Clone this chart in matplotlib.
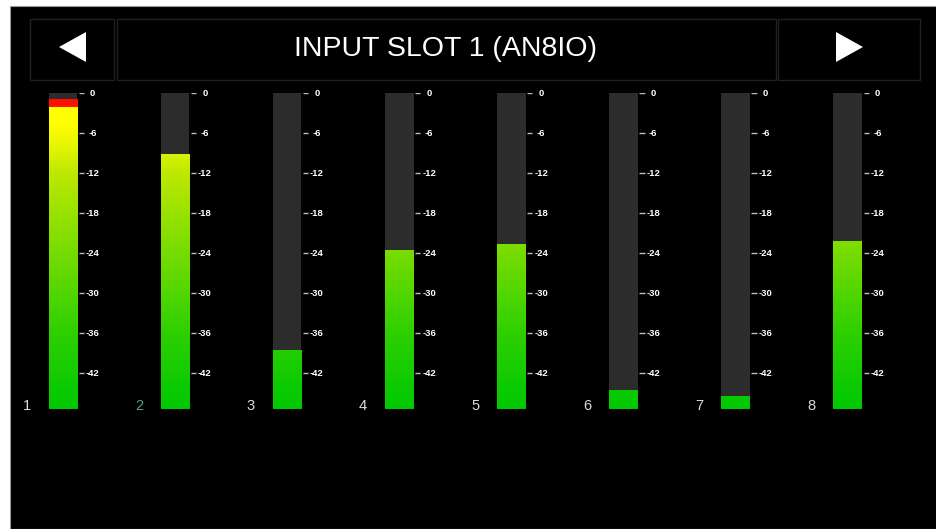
import numpy as np
import matplotlib
matplotlib.use("Agg")
import matplotlib.pyplot as plt
from matplotlib.colors import LinearSegmentedColormap, Normalize
from matplotlib.patches import Rectangle, Polygon

# ---- data ----
title = "INPUT SLOT 1 (AN8IO)"
channels = ["1", "2", "3", "4", "5", "6", "7", "8"]
levels_db = [-0.9, -9.1, -38.6, -23.5, -22.6, -44.5, -45.5, -22.2]
tick_values = [0, -6, -12, -18, -24, -30, -36, -42]
tick_labels = ["0", "-6", "-12", "-18", "-24", "-30", "-36", "-42"]
selected_channel = "2"
db_min, db_max = -47.3, 0.0
clip_db = -2.0

W, H = 937, 529
fig = plt.figure(figsize=(W / 100, H / 100), dpi=100)
fig.patch.set_facecolor("white")

def fx(x):
    return x / W

def fy(y):
    return 1 - y / H

# black screen area
fig.patches.append(Rectangle((fx(10), 0), 1 - fx(10), fy(6), transform=fig.transFigure,
                             facecolor="black", edgecolor="#9a9a9a", linewidth=0.8, zorder=0))

# header boxes
for x0, x1 in [(30, 114), (117, 776), (778, 920)]:
    fig.patches.append(Rectangle((fx(x0), fy(80)), fx(x1) - fx(x0), fy(19) - fy(80),
                                 transform=fig.transFigure, facecolor="black",
                                 edgecolor="#1c221e", linewidth=1.0, zorder=1))
# arrows
fig.patches.append(Polygon([(fx(59), fy(47)), (fx(86), fy(32)), (fx(86), fy(62))],
                           closed=True, transform=fig.transFigure, facecolor="white",
                           edgecolor="none", zorder=2))
fig.patches.append(Polygon([(fx(863), fy(47)), (fx(836), fy(32)), (fx(836), fy(62))],
                           closed=True, transform=fig.transFigure, facecolor="white",
                           edgecolor="none", zorder=2))
fig.text(fx(446), fy(49), title, color="white", fontsize=20.5, family="Liberation Sans",
         ha="center", va="center", zorder=3)

# meter axes
ax = fig.add_axes([fx(10), fy(408.7), 1 - fx(10), fy(93.3) - fy(408.7)])
ax.set_zorder(5)
ax.set_facecolor("none")
ax.axis("off")

def n(v):
    return (v - db_min) / (db_max - db_min)

cmap = LinearSegmentedColormap.from_list("meter", [
    (0.0, "#00c800"),
    (n(-36), "#2ed000"),
    (n(-24), "#76dc00"),
    (n(-12), "#bce800"),
    (n(-7), "#eef800"),
    (n(-4.5), "#ffff00"),
    (n(clip_db) - 0.0001, "#ffff00"),
    (n(clip_db), "#ff1000"),
    (1.0, "#ff1000"),
])
norm = Normalize(vmin=db_min, vmax=db_max)

xs = np.arange(1, len(channels) + 1)
bw = 0.256
ax.bar(xs, db_max - db_min, bottom=db_min, width=bw, color="#2c2c2c", zorder=1)

for x, lv in zip(xs, levels_db):
    vals = np.linspace(db_min, lv, 300).reshape(-1, 1)
    ax.imshow(vals, extent=[x - bw / 2, x + bw / 2, db_min, lv], origin="lower",
              cmap=cmap, norm=norm, aspect="auto", interpolation="nearest", zorder=2)

# scale ticks and labels
for x in xs:
    ax.hlines(tick_values, x + bw / 2 + 0.013, x + bw / 2 + 0.06, color="#bdbdbd",
              linewidth=1.0, zorder=3)
    for tv, tl in zip(tick_values, tick_labels):
        ax.text(x + bw / 2 + 0.138, tv, tl, color="white", fontsize=6.8,
                family="Liberation Sans", weight="bold", ha="center", va="center", zorder=4)

for x, ch in zip(xs, channels):
    col = "#46a392" if ch == selected_channel else "#dcdcdc"
    ax.text(x - 0.322, -46.95, ch, color=col, fontsize=10.5, family="Liberation Sans",
            ha="center", va="center", zorder=4)

ax.set_xlim(1 - (175 - 112.14 - 10) / 112.14, 8 + (937 - 847.8) / 112.14)
ax.set_ylim(db_min, db_max)

fig.savefig("out.png", dpi=100, facecolor=fig.get_facecolor())
